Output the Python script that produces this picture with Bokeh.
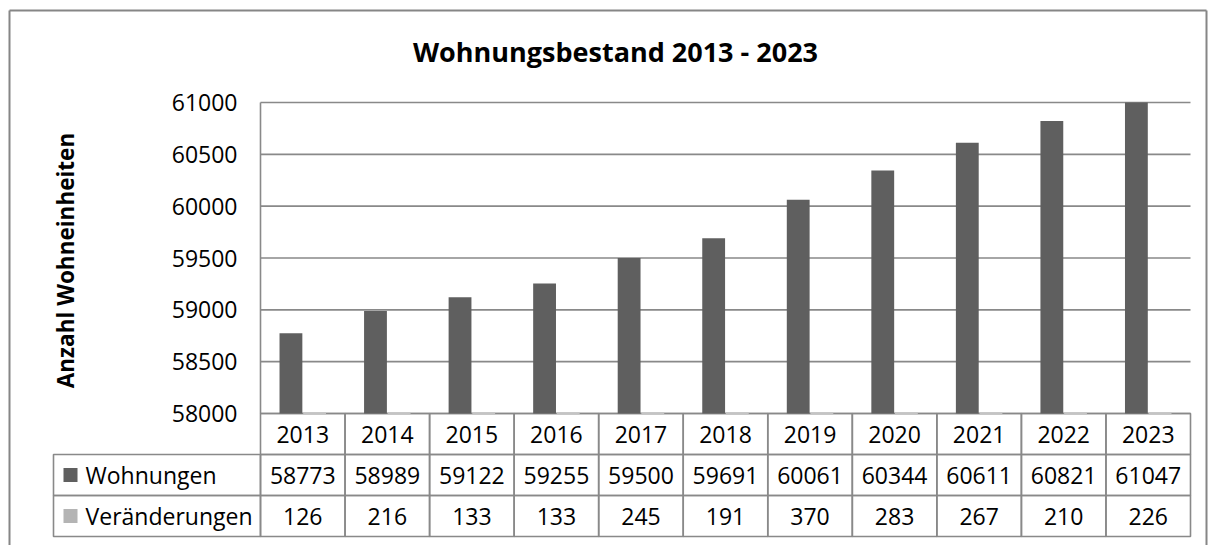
import numpy as np
from bokeh.plotting import figure
from bokeh.models import Range1d
from bokeh.core.properties import value
from bokeh.embed import file_html
from bokeh.resources import INLINE

# ---------------- data ----------------
years = ["2013", "2014", "2015", "2016", "2017", "2018", "2019", "2020", "2021", "2022", "2023"]
wohnungen = [58773, 58989, 59122, 59255, 59500, 59691, 60061, 60344, 60611, 60821, 61047]
veraenderungen = [126, 216, 133, 133, 245, 191, 370, 283, 267, 210, 226]
series_names = ["Wohnungen", "Veränderungen"]
series_colors = ["#5f5f5f", "#b4b4b4"]
y_ticks = [58000, 58500, 59000, 59500, 60000, 60500, 61000]
title_text = "Wohnungsbestand 2013 - 2023"
y_label_text = "Anzahl Wohneinheiten"

Y_MIN, Y_MAX = 58000, 61000
FONT = value("Open Sans")
GRID = "#898989"

n = len(years)
idx = np.arange(n)

# page geometry (figure drawn from page origin)
W, H = 1212, 545
ORG = 0
plot_left_px, plot_right_px = 260, 1190
y_min_px, y_max_px = 413, 102
cat_px = (plot_right_px - plot_left_px) / n
unit_px = (y_min_px - y_max_px) / (Y_MAX - Y_MIN)
row_px = 41.0


def px_x(px):
    return (px - plot_left_px) / cat_px


def px_y(py):
    return Y_MIN + (y_min_px - py) / unit_px


x0 = px_x(ORG)
x1 = px_x(ORG + W)
y_top = px_y(ORG)
y_bot = px_y(ORG + H)

p = figure(width=W, height=H, x_range=Range1d(x0, x1), y_range=Range1d(y_bot, y_top),
           min_border=0, toolbar_location=None, output_backend="svg",
           x_axis_location=None, y_axis_location=None)
p.grid.visible = False
p.outline_line_color = None
p.background_fill_color = "white"
p.border_fill_color = "white"

# table range: rows 0 (years), 1 (Wohnungen), 2 (Veränderungen), downward
p.extra_y_ranges = {"tbl": Range1d(start=(ORG + H - y_min_px) / row_px,
                                   end=-(y_min_px - ORG) / row_px)}

# ---------------- chart border ----------------
bl, bt, br = px_x(9), px_y(10), px_x(1206)
bb = px_y(560)
p.segment(x0=[bl, bl, br], y0=[bb, bt, bt], x1=[bl, br, br], y1=[bt, bt, bb],
          line_color="#868686", line_width=2)

# ---------------- table cells ----------------
cell_x = [i + 0.5 for r in range(3) for i in range(n)]
cell_y = [r + 0.5 for r in range(3) for i in range(n)]
p.rect(x=cell_x, y=cell_y, width=1, height=1, fill_color=None,
       line_color=GRID, line_width=1.6, y_range_name="tbl")
leg_w = -px_x(53)
p.rect(x=[-leg_w / 2] * 2, y=[1.5, 2.5], width=leg_w, height=1, fill_color=None,
       line_color=GRID, line_width=1.6, y_range_name="tbl")

# ---------------- grid lines & axis line ----------------
p.segment(x0=0, y0=y_ticks, x1=n, y1=y_ticks, line_color=GRID, line_width=1.6)
p.segment(x0=[0], y0=[Y_MIN], x1=[0], y1=[Y_MAX], line_color=GRID, line_width=1.6)

# ---------------- bars ----------------
bw = 0.27
p.vbar(x=idx + 0.5 - bw / 2 - 0.005, width=bw, bottom=Y_MIN,
       top=np.clip(wohnungen, Y_MIN, Y_MAX), fill_color=series_colors[0], line_color=None)
p.vbar(x=idx + 0.5 + bw / 2 + 0.005, width=bw, bottom=Y_MIN,
       top=np.clip(veraenderungen, Y_MIN, Y_MAX), fill_color=series_colors[1],
       line_color="#c4c4c4", line_width=2)

# ---------------- y tick labels ----------------
p.text(x=[px_x(237)] * len(y_ticks), y=y_ticks, text=[str(t) for t in y_ticks],
       text_align="right", text_baseline="middle", text_font=FONT,
       text_font_size="23px", text_color="black")

# ---------------- table texts ----------------
p.text(x=idx + 0.5, y=[0.5] * n, text=years, text_align="center", text_baseline="middle",
       text_font=FONT, text_font_size="23px", text_color="black", y_range_name="tbl")
p.text(x=idx + 0.5, y=[1.5] * n, text=[str(v) for v in wohnungen], text_align="center",
       text_baseline="middle", text_font=FONT, text_font_size="23px", text_color="black",
       y_range_name="tbl")
p.text(x=idx + 0.5, y=[2.5] * n, text=[str(v) for v in veraenderungen], text_align="center",
       text_baseline="middle", text_font=FONT, text_font_size="23px", text_color="black",
       y_range_name="tbl")

# legend keys in table
p.scatter(x=[px_x(70)] * 2, y=[1.5, 2.5], marker="square", size=14,
          fill_color=series_colors, line_color=None, y_range_name="tbl")
p.text(x=[px_x(85)] * 2, y=[1.5, 2.5], text=series_names, text_align="left",
       text_baseline="middle", text_font=FONT, text_font_size="23px", text_color="black",
       y_range_name="tbl")

# ---------------- title & axis label ----------------
p.text(x=[px_x(615)], y=[px_y(51)], text=[title_text],
       text_align="center", text_baseline="middle", text_font=FONT,
       text_font_size="27px", text_font_style="bold", text_color="black")
p.text(x=[px_x(65)], y=[px_y(260)], text=[y_label_text], angle=np.pi / 2,
       text_align="center", text_baseline="middle", text_font=FONT,
       text_font_size="22.5px", text_font_style="bold", text_color="black")

open("out.html", "w").write(file_html(p, INLINE))
